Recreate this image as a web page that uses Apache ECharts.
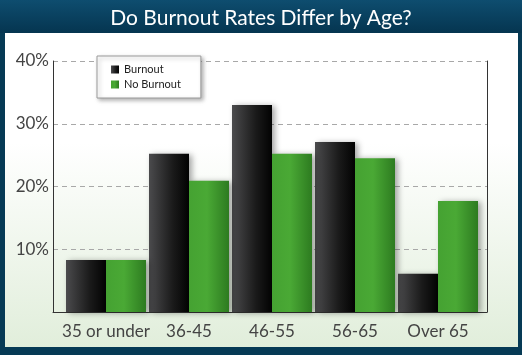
<!DOCTYPE html>
<html>
<head>
<meta charset="utf-8">
<script src="https://cdn.jsdelivr.net/npm/echarts@6/dist/echarts.min.js"></script>
<style>
  html, body { margin: 0; padding: 0; }
  body { width: 522px; height: 355px; overflow: hidden; background: #063a55; position: relative; }
  #head { position: absolute; left: 0; top: 0; width: 522px; height: 33px;
          background: linear-gradient(#0e4d6f, #053550); }
  #panel { position: absolute; left: 5px; top: 33px; width: 513px; height: 314px;
           background: linear-gradient(#ffffff 0%, #ffffff 35%, #e1eedb 100%); }
  #chart { position: absolute; left: 0; top: 0; width: 522px; height: 355px; }
</style>
</head>
<body>
<div id="head"></div>
<div id="panel"></div>
<div id="chart"></div>
<script>
var categories = ['35 or under', '36-45', '46-55', '56-65', 'Over 65'];
var burnout = [8.3, 25.2, 33.0, 27.1, 6.1];
var noBurnout = [8.3, 20.9, 25.2, 24.5, 17.7];

var chart = echarts.init(document.getElementById('chart'));

// dark bar: light grey on the left to black on the right
var darkFill = new echarts.graphic.LinearGradient(0, 0, 1, 0, [
    { offset: 0, color: '#4b4b4d' },
    { offset: 0.6, color: '#1a1a1a' },
    { offset: 1, color: '#020202' }
]);
var greenFill = new echarts.graphic.LinearGradient(0, 0, 1, 0, [
    { offset: 0, color: '#45a232' },
    { offset: 0.45, color: '#4aa935' },
    { offset: 1, color: '#2d7b20' }
]);

var option = {
    animation: false,
    textStyle: { fontFamily: 'Lato' },
    title: {
        text: 'Do Burnout Rates Differ by Age?',
        left: 'center',
        top: 3,
        textStyle: { color: '#ffffff', fontSize: 21, fontWeight: 'normal', fontFamily: 'Lato' }
    },
    legend: {
        data: ['Burnout', 'No Burnout'],
        icon: 'rect',
        orient: 'vertical',
        left: 97,
        top: 56,
        itemWidth: 8,
        itemHeight: 8,
        itemGap: 4,
        padding: [8, 20, 8, 14],
        backgroundColor: '#ffffff',
        borderColor: '#9a9a9a',
        borderWidth: 1,
        shadowColor: 'rgba(0,0,0,0.3)',
        shadowBlur: 4,
        shadowOffsetX: 2,
        shadowOffsetY: 2,
        textStyle: { color: '#222', fontSize: 11, fontFamily: 'Lato' }
    },
    grid: [
        { left: 53, top: 61, width: 434, height: 251 },
        { left: 64.5, top: 61, width: 415, height: 251 }
    ],
    xAxis: [
        {
            gridIndex: 0, type: 'category', data: categories,
            axisLine: { show: true, lineStyle: { color: '#333', width: 1 } },
            axisTick: { show: false }, axisLabel: { show: false }
        },
        {
            gridIndex: 1, type: 'category', data: categories,
            axisLine: { show: false }, axisTick: { show: false },
            axisLabel: { color: '#444', fontSize: 17, margin: 11, interval: 0, fontFamily: 'Lato' }
        }
    ],
    yAxis: [
        {
            gridIndex: 0, type: 'value', min: 0, max: 40, interval: 10,
            axisLine: { show: true, lineStyle: { color: '#333' } },
            axisTick: { show: false },
            axisLabel: {
                color: '#444', fontSize: 17, margin: 4, fontFamily: 'Lato',
                formatter: function (v) { return v === 0 ? '' : v + '%'; }
            },
            splitLine: { show: true, lineStyle: { color: '#a8a8a8', type: [5, 4] } }
        },
        {
            gridIndex: 0, type: 'value', min: 0, max: 40, interval: 10, position: 'right',
            axisLine: { show: true, lineStyle: { color: '#333' } },
            axisTick: { show: false }, axisLabel: { show: false }, splitLine: { show: false }
        },
        {
            gridIndex: 1, type: 'value', min: 0, max: 40, interval: 10, show: false
        }
    ],
    series: [
        {
            name: 'Burnout', type: 'bar', xAxisIndex: 1, yAxisIndex: 2,
            data: burnout, barWidth: 40, barGap: '0%',
            itemStyle: {
                color: darkFill,
                shadowColor: 'rgba(0,0,0,0.35)', shadowBlur: 6, shadowOffsetX: 3, shadowOffsetY: 1
            }
        },
        {
            name: 'No Burnout', type: 'bar', xAxisIndex: 1, yAxisIndex: 2,
            data: noBurnout, barWidth: 40, barGap: '0%',
            itemStyle: {
                color: greenFill,
                shadowColor: 'rgba(0,0,0,0.35)', shadowBlur: 6, shadowOffsetX: 3, shadowOffsetY: 1
            }
        }
    ]
};

chart.setOption(option);
</script>
</body>
</html>
